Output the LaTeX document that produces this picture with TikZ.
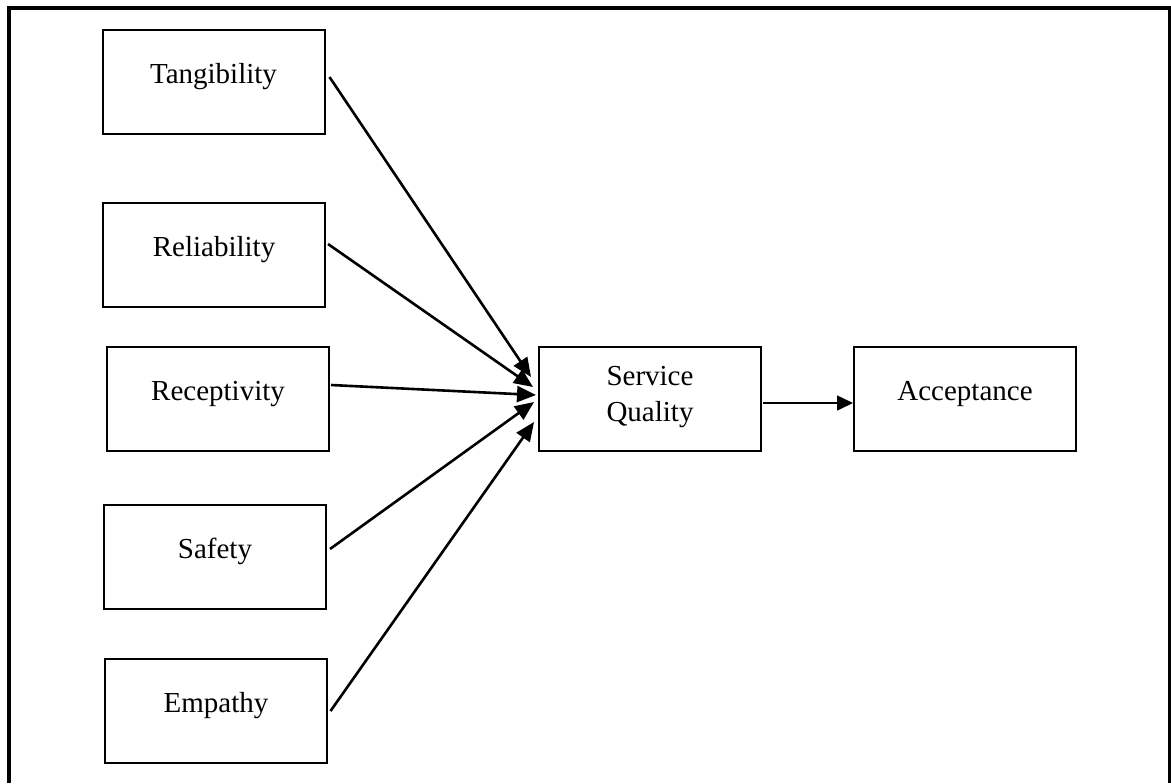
\documentclass[tikz,border=0pt]{standalone}
\usepackage{fontspec}
\setmainfont{Liberation Serif}
\usetikzlibrary{arrows.meta,calc}
\begin{document}
\begin{tikzpicture}[x=0.5pt,y=-0.5pt,
  box/.style={draw, line width=1pt, minimum width=111pt, minimum height=52pt,
    inner sep=0pt, font=\fontsize{14.5}{18}\selectfont, text height=10pt, text depth=8.5pt},
  twoline/.style={align=center, text height=30pt, text depth=8pt},
  feed/.style={line width=1.3pt, -{Triangle[length=9.5pt,width=8pt]}},
  link/.style={line width=0.75pt, -{Triangle[length=8pt,width=7.5pt]}}]
  \useasboundingbox (0,0) rectangle (1171,783);
  % outer frame, open at the bottom
  \draw[line width=1.75pt] (9,783) -- (9,8) -- (1169.5,8) -- (1169.5,783);

  % dimensions
  \node[box] (tang) at (213.5,81.5) {Tangibility};
  \node[box] (rel)  at (214,254.5)  {Reliability};
  \node[box] (rec)  at (218,399)    {Receptivity};
  \node[box] (saf)  at (215,557)    {Safety};
  \node[box] (emp)  at (216,710.5)  {Empathy};

  % outcome boxes
  \node[box,twoline] (sq) at (650,399) {Service\\Quality};
  \node[box] (acc) at (965,398.5) {Acceptance};

  % dimension arrows into service quality
  \draw[feed] ($(tang.east)+(4,-4.5)$) -- ($(sq.west)+(-7,-22)$);
  \draw[feed] ($(rel.east)+(2,-10.5)$) -- ($(sq.west)+(-5,-12)$);
  \draw[feed] ($(rec.east)+(1,-14)$)   -- ($(sq.west)+(-2,-4)$);
  \draw[feed] ($(saf.east)+(3,-8)$)    -- ($(sq.west)+(-4,3)$);
  \draw[feed] ($(emp.east)+(2.5,0.5)$) -- ($(sq.west)+(-4,23)$);

  \draw[link] ($(sq.east)+(1,4)$) -- ($(acc.west)+(0,4.5)$);
\end{tikzpicture}
\end{document}
